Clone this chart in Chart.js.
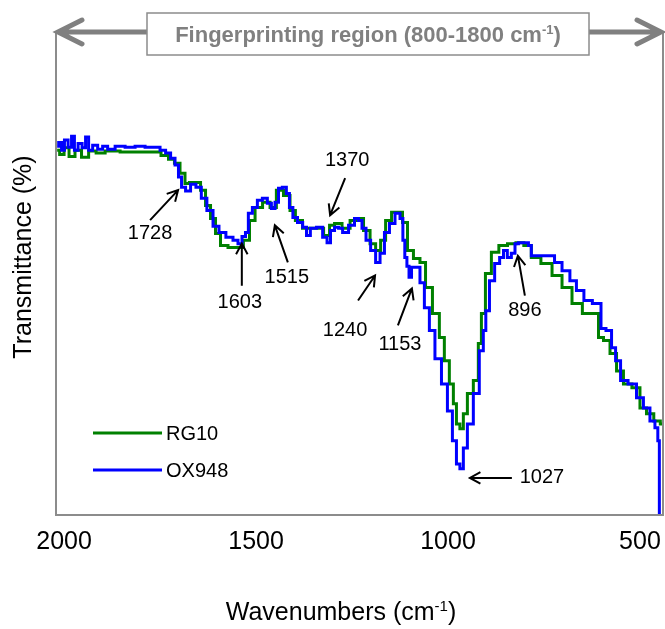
<!DOCTYPE html>
<html>
<head>
<meta charset="utf-8">
<title>FTIR spectra</title>
<script src="https://cdn.jsdelivr.net/npm/chart.js@4.4.1/dist/chart.umd.min.js"></script>
<style>
body { margin: 0; background: #fff; }
canvas { display: block; }
</style>
</head>
<body>
<canvas id="ftirChart" width="665" height="629"></canvas>
<script>
// x axis ticks (wavenumbers, cm-1)
var wnTicks = [2000, 1500, 1000, 500];

// RG10 (green)
var rg10Wn = [2018,2005,1995,1979,1964,1945,1927,1906,1880,1828,1776,1758,1737,1719,1706,1690,1680,1667,1651,1638,
	1625,1612,1599,1586,1560,1542,1524,1510,1495,1471,1456,1438,1419,1404,1391,1367,1333,1315,1302,1289,
	1263,1247,1229,1211,1195,1182,1169,1156,1138,1125,1112,1099,1081,1065,1052,1029,1016,1003,990,982,
	974,964,956,943,925,917,909,896,878,857,833,813,792,774,742,716,690,664,636,612,
	604,586,570,552,534,508,492,474,454,440];
var rg10T = [75.7,74.8,76.2,74.4,75.7,74.2,75.5,75.1,75.5,75.3,75.3,75.3,74.6,73.8,73.0,70.9,68.8,69.0,69.0,67.4,
	64.2,61.5,58.4,55.9,55.5,55.5,57.0,61.1,63.8,64.9,63.8,67.4,66.3,63.2,61.1,59.5,59.5,58.0,60.1,60.5,
	59.5,61.1,61.5,59.0,56.3,54.9,57.0,61.1,62.8,62.8,60.7,54.9,53.2,52.4,47.2,41.8,36.8,32.0,27.2,23.1,
	18.9,17.9,21.0,25.2,27.9,35.6,41.8,50.1,54.5,55.9,56.3,56.5,55.9,53.4,52.2,49.7,47.2,43.9,41.8,41.8,
	36.8,36.2,33.5,29.9,27.2,26.4,22.2,21.0,19.5,18.9];

// OX948 (blue)
var ox948Wn = [2018,2010,2003,1995,1984,1977,1969,1958,1948,1940,1932,1919,1906,1893,1880,1854,1828,1802,1776,1758,
	1742,1729,1716,1706,1698,1690,1677,1664,1649,1636,1620,1604,1589,1568,1552,1542,1531,1524,1516,1503,
	1490,1477,1464,1456,1445,1438,1425,1417,1409,1399,1385,1372,1365,1352,1333,1320,1310,1302,1289,1281,
	1268,1250,1237,1229,1219,1208,1195,1182,1172,1159,1146,1130,1120,1115,1110,1104,1099,1091,1078,1068,
	1055,1042,1026,1008,995,982,974,964,956,943,925,912,904,899,885,872,859,852,839,831,
	820,813,794,787,779,761,729,716,690,675,656,636,612,604,599,578,570,557,544,518,
	500,482,466,456,451,448];
var ox948T = [76.5,77.3,75.7,77.8,76.3,78.6,75.7,77.1,76.2,78.4,75.7,76.7,75.9,76.5,75.9,76.5,76.3,76.5,76.3,76.3,
	75.7,75.1,74.0,72.6,70.1,68.0,67.2,68.6,68.0,65.7,63.2,59.9,58.6,57.6,57.0,56.3,57.8,58.6,62.6,63.8,
	65.3,65.7,64.7,63.6,64.9,67.8,68.0,66.7,63.8,61.7,60.7,59.7,58.0,59.5,59.7,57.6,56.5,59.0,59.7,59.5,
	58.6,60.1,61.5,61.1,59.5,57.0,54.9,52.4,54.3,58.6,60.5,62.6,61.5,57.0,53.4,51.6,49.3,51.4,51.4,48.2,
	43.0,38.3,32.4,27.2,21.6,15.4,10.6,9.6,13.9,18.9,25.2,34.1,38.3,42.4,48.6,52.2,53.4,54.9,53.4,54.3,
	56.3,56.5,56.5,55.9,53.8,53.8,53.8,52.4,50.7,48.6,46.6,44.5,43.9,43.9,38.7,38.3,34.7,32.0,27.9,27.2,
	24.3,22.2,19.5,18.1,15.4,-5];

// peak annotations: label and the point of the curve the arrow points at
var peakLabels = ['1728', '1603', '1515', '1370', '1240', '1153', '896', '1027'];
var peakWn = [1703, 1537, 1451, 1307, 1190, 1094, 818, 943];
var peakT = [67.4, 56.3, 60.1, 62.2, 49.7, 47.0, 53.8, 7.7];

var FONT = '"Liberation Sans", Arial, sans-serif';

var toPoints = function(xs, ys){
	var pts = [];
	for(var i=0; i<xs.length; i++){
		pts.push({x: xs[i], y: ys[i]});
	}
	return pts;
}

// arrow tail offset (dx,dy) and label centre offset (lx,ly), relative to the arrow tip
var peakLayout = [
	[-28, 30, -28, 43],
	[0, 42, -2, 59],
	[13, 37, 12, 52],
	[15, -37, 17, -55],
	[-17, 25, -30, 55],
	[-14, 37, -12, 56],
	[7, 40, 7, 55],
	[42, 0, 72, 0]
];

var drawArrow = function(ctx, x1, y1, x2, y2, head){
	var ang = Math.atan2(y2 - y1, x2 - x1);
	ctx.beginPath();
	ctx.moveTo(x1, y1);
	ctx.lineTo(x2, y2);
	ctx.moveTo(x2 - head*Math.cos(ang - 0.5), y2 - head*Math.sin(ang - 0.5));
	ctx.lineTo(x2, y2);
	ctx.lineTo(x2 - head*Math.cos(ang + 0.5), y2 - head*Math.sin(ang + 0.5));
	ctx.stroke();
}

// text with a superscript part in the middle: [before, sup, after]
var drawSupText = function(ctx, parts, cx, y, size, weight, color){
	var big = weight + ' ' + size + 'px ' + FONT;
	var small = weight + ' ' + Math.round(size*0.6) + 'px ' + FONT;
	ctx.font = big;
	var w1 = ctx.measureText(parts[0]).width, w3 = ctx.measureText(parts[2]).width;
	ctx.font = small;
	var w2 = ctx.measureText(parts[1]).width;
	var x = cx - (w1 + w2 + w3)/2;
	ctx.fillStyle = color;
	ctx.textAlign = 'left';
	ctx.textBaseline = 'alphabetic';
	ctx.font = big;
	ctx.fillText(parts[0], x, y);
	ctx.font = small;
	ctx.fillText(parts[1], x + w1, y - size*0.38);
	ctx.font = big;
	ctx.fillText(parts[2], x + w1 + w2, y);
}

var decorPlugin = {
	id: 'decor',
	afterDraw: function(chart){
		var ctx = chart.ctx, a = chart.chartArea;
		var xs = chart.scales.x, ys = chart.scales.y;
		ctx.save();

		// frame (left, bottom, right)
		ctx.strokeStyle = '#8c8c8c';
		ctx.lineWidth = 2;
		ctx.beginPath();
		ctx.moveTo(a.left, a.top - 1);
		ctx.lineTo(a.left, a.bottom);
		ctx.lineTo(a.right, a.bottom);
		ctx.lineTo(a.right, a.top - 1);
		ctx.stroke();

		// double arrow over the fingerprint region
		var ay = a.top - 1;
		ctx.strokeStyle = '#808080';
		ctx.lineWidth = 5;
		ctx.lineCap = 'round';
		ctx.beginPath();
		ctx.moveTo(a.left + 2, ay);
		ctx.lineTo(a.right - 2, ay);
		ctx.moveTo(a.left + 26, ay - 12);
		ctx.lineTo(a.left + 2, ay);
		ctx.lineTo(a.left + 26, ay + 12);
		ctx.moveTo(a.right - 26, ay - 12);
		ctx.lineTo(a.right - 2, ay);
		ctx.lineTo(a.right - 26, ay + 12);
		ctx.stroke();
		ctx.lineCap = 'butt';

		ctx.fillStyle = '#fff';
		ctx.fillRect(147, 13, 442, 42);
		ctx.strokeStyle = '#8c8c8c';
		ctx.lineWidth = 1.5;
		ctx.strokeRect(147, 13, 442, 42);
		drawSupText(ctx, ['Fingerprinting region (800-1800 cm', '-1', ')'], 368, 42, 22, 'bold', '#808080');

		// axis titles
		drawSupText(ctx, ['Wavenumbers (cm', '-1', ')'], 341, 620, 25, 'normal', '#000');
		ctx.save();
		ctx.translate(24, 257);
		ctx.rotate(-Math.PI/2);
		ctx.font = '25px ' + FONT;
		ctx.fillStyle = '#000';
		ctx.textAlign = 'center';
		ctx.textBaseline = 'middle';
		ctx.fillText('Transmittance (%)', 0, 0);
		ctx.restore();

		// legend
		var ds = chart.data.datasets;
		ctx.font = '20px ' + FONT;
		ctx.textAlign = 'left';
		ctx.textBaseline = 'middle';
		for(var i=0; i<ds.length; i++){
			var ly = 433 + i*37;
			ctx.strokeStyle = ds[i].borderColor;
			ctx.lineWidth = 3;
			ctx.beginPath();
			ctx.moveTo(93, ly);
			ctx.lineTo(162, ly);
			ctx.stroke();
			ctx.fillStyle = '#000';
			ctx.fillText(ds[i].label, 166, ly + 1);
		}

		// peak arrows
		ctx.strokeStyle = '#000';
		ctx.fillStyle = '#000';
		ctx.lineWidth = 2;
		ctx.textAlign = 'center';
		ctx.textBaseline = 'middle';
		for(var k=0; k<peakLabels.length; k++){
			var tx = xs.getPixelForValue(peakWn[k]);
			var ty = ys.getPixelForValue(peakT[k]);
			var p = peakLayout[k];
			drawArrow(ctx, tx + p[0], ty + p[1], tx, ty, 12);
			ctx.fillText(peakLabels[k], tx + p[2], ty + p[3]);
		}
		ctx.restore();
	}
};

var ctx = document.getElementById('ftirChart').getContext('2d');
var ftirChart = new Chart(ctx, {
	type: 'line',
	data: {
		datasets: [
			{
				label: 'RG10',
				data: toPoints(rg10Wn, rg10T),
				borderColor: '#008000',
				borderWidth: 3,
				pointRadius: 0,
				stepped: 'middle',
				fill: false,
				order: 2
			},
			{
				label: 'OX948',
				data: toPoints(ox948Wn, ox948T),
				borderColor: '#0000ff',
				borderWidth: 3,
				pointRadius: 0,
				stepped: 'middle',
				fill: false,
				order: 1
			}
		]
	},
	options: {
		responsive: false,
		animation: false,
		devicePixelRatio: 1,
		layout: { padding: { left: 56, right: 2, top: 33, bottom: 60 } },
		plugins: {
			legend: { display: false },
			tooltip: { enabled: false }
		},
		scales: {
			x: {
				type: 'linear',
				reverse: true,
				min: 440,
				max: 2021,
				afterBuildTicks: function(axis){
					axis.ticks = wnTicks.map(function(v){ return {value: v}; });
				},
				afterFit: function(axis){
					axis.paddingLeft = 0;
					axis.paddingRight = 0;
				},
				grid: { display: false, drawTicks: false },
				border: { display: false },
				ticks: {
					color: '#000',
					padding: 12,
					maxRotation: 0,
					autoSkip: false,
					font: { family: FONT, size: 25 },
					callback: function(v){ return String(v); }
				}
			},
			y: {
				display: false,
				min: 0,
				max: 100
			}
		}
	},
	plugins: [decorPlugin]
});
</script>
</body>
</html>
